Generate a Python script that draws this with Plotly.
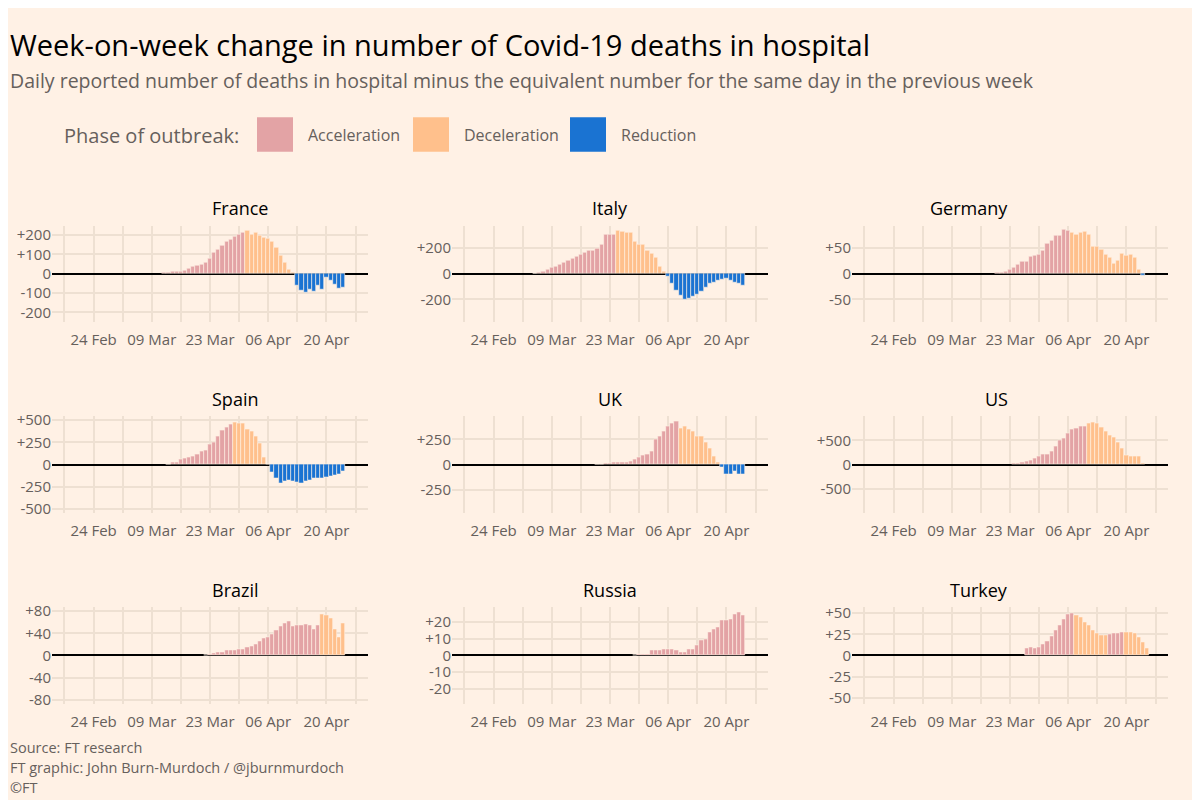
import pandas as pd
import plotly.graph_objects as go

# Données : variation hebdomadaire des décès à l'hôpital
countries = ["France", "Italy", "Germany", "Spain", "UK", "US", "Brazil", "Russia", "Turkey"]

start_dates = {
    "France": "2020-03-12", "Italy": "2020-03-05", "Germany": "2020-03-20",
    "Spain": "2020-03-13", "UK": "2020-03-20", "US": "2020-03-24",
    "Brazil": "2020-03-22", "Russia": "2020-03-29", "Turkey": "2020-03-27",
}

france = [5, 8, 10, 10, 12, 15, 25, 35, 40, 50, 60, 80, 110, 125, 145, 165, 180, 195, 205, 215,
          225, 205, 215, 200, 190, 185, 165, 135, 95, 60, 20, 5,
          -60, -85, -95, -80, -90, -60, -80, -20, -35, -55, -75, -70]
italy = [5, 10, 20, 30, 45, 60, 75, 90, 105, 120, 135, 150, 165, 180, 185, 200, 225, 305, 310, 310,
         340, 330, 325, 320, 255, 230, 225, 180, 155, 130, 60, 15,
         -20, -80, -135, -170, -200, -195, -180, -160, -140, -110, -80, -70, -50, -45, -40, -55, -70, -75, -95]
germany = [2, 3, 5, 8, 12, 17, 23, 23, 33, 35, 38, 45, 58, 65, 75, 75, 87, 85,
           80, 77, 80, 82, 77, 53, 53, 47, 37, 32, 20, 25, 40, 35, 37, 32, 8,
           -4]
spain = [5, 30, 30, 55, 65, 80, 95, 110, 150, 160, 225, 245, 320, 380, 420, 450,
         470, 460, 460, 400, 370, 320, 240, 80, 5,
         -90, -160, -210, -190, -180, -190, -200, -210, -190, -175, -150, -155, -150, -140, -130, -120, -110, -80]
uk = [3, 5, 8, 15, 20, 20, 25, 25, 30, 50, 70, 90, 100, 130, 250, 280, 330, 380, 410, 430,
      360, 385, 355, 330, 280, 280, 220, 160, 85, 25,
      -30, -100, -95, -70, -100, -95]
us = [20, 30, 50, 70, 90, 120, 160, 210, 220, 280, 370, 500, 550, 650, 730, 750, 800, 800,
      850, 880, 850, 780, 680, 610, 560, 470, 330, 200, 180, 180, 180, 20]
brazil = [1, 2, 4, 5, 6, 9, 10, 10, 12, 12, 15, 17, 21, 25, 31, 33, 38, 45, 52, 59, 61, 53, 55, 54, 56, 54, 48, 55,
          75, 72, 67, 48, 33, 58]
russia = [0.3, 0.5, 0.5, 1, 3, 3, 3, 4, 4, 3.5, 3, 2, 2, 4, 3.5, 6, 9, 10, 14, 16, 17, 21, 21, 22, 25, 26, 24]
turkey = [9, 10, 9, 10, 13, 17, 23, 30, 36, 43, 49, 50,
          48, 45, 39, 36, 30, 26, 24, 24,
          25, 26, 26, 27,
          28, 28, 26, 22, 16, 9]

values = {"France": france, "Italy": italy, "Germany": germany, "Spain": spain, "UK": uk,
          "US": us, "Brazil": brazil, "Russia": russia, "Turkey": turkey}

# Phases : (phase, nombre de jours)
phases = {
    "France": [("A", 20), ("D", 12), ("R", 12)],
    "Italy": [("A", 20), ("D", 12), ("R", 19)],
    "Germany": [("A", 18), ("D", 17), ("R", 1)],
    "Spain": [("A", 16), ("D", 9), ("R", 18)],
    "UK": [("A", 20), ("D", 10), ("R", 6)],
    "US": [("A", 18), ("D", 14)],
    "Brazil": [("A", 28), ("D", 6)],
    "Russia": [("A", 27)],
    "Turkey": [("A", 12), ("D", 8), ("A", 4), ("D", 6)],
}

yticks = {
    "France": [-200, -100, 0, 100, 200], "Italy": [-200, 0, 200], "Germany": [-50, 0, 50],
    "Spain": [-500, -250, 0, 250, 500], "UK": [-250, 0, 250], "US": [-500, 0, 500],
    "Brazil": [-80, -40, 0, 40, 80], "Russia": [-20, -10, 0, 10, 20], "Turkey": [-50, -25, 0, 25, 50],
}
yranges = {
    "France": 250, "Italy": 377, "Germany": 94, "Spain": 540, "UK": 480,
    "US": 1000, "Brazil": 87, "Russia": 29, "Turkey": 57,
}

week_ticks = pd.date_range("2020-02-17", "2020-04-27", freq="7D")
week_labels = ["24 Feb", "09 Mar", "23 Mar", "06 Apr", "20 Apr"]

phase_names = {"A": "Acceleration", "D": "Deceleration", "R": "Reduction"}
phase_colors = {"A": "#e3a3a5", "D": "#ffc08c", "R": "#1a73d2"}

bg = "#fff1e5"
grid = "#eee0d2"
grey = "#66605c"

W, H = 1200, 800
OX, OY = 8, 8  # décalage de la page (marge du body)
col_x = [(52, 368), (452, 768), (852, 1168)]
row_y = [(222, 320), (416, 514), (610, 708)]


def px(x):
    return (x - OX) / W


def py(y):
    return 1 - (y - OY) / H


fig = go.Figure()

for i, c in enumerate(countries):
    r, k = divmod(i, 3)
    n = i + 1
    xa = "x" if n == 1 else f"x{n}"
    ya = "y" if n == 1 else f"y{n}"
    dates = pd.date_range(start_dates[c], periods=len(values[c]), freq="D")
    cols = []
    for p, cnt in phases[c]:
        cols += [phase_colors[p]] * cnt
    fig.add_trace(go.Bar(
        x=dates, y=values[c], xaxis=xa, yaxis=ya,
        marker=dict(color=cols, line=dict(color=bg, width=0.6)),
        showlegend=False,
    ))
    x0, x1 = col_x[k]
    y0, y1 = row_y[r]
    labels = []
    for d in week_ticks:
        s = d.strftime("%d %b")
        labels.append(s if s in week_labels else "")
    lim = yranges[c]
    fig.update_layout(**{
        ("xaxis" if n == 1 else f"xaxis{n}"): dict(
            domain=[px(x0), px(x1)], anchor=ya, type="date",
            range=["2020-02-14", "2020-04-30"],
            tickvals=list(week_ticks), ticktext=labels,
            showgrid=True, gridcolor=grid, gridwidth=2, zeroline=False,
            tickfont=dict(size=15, color=grey), ticks="", ticklabelstandoff=7,
        ),
        ("yaxis" if n == 1 else f"yaxis{n}"): dict(
            domain=[py(y1), py(y0)], anchor=xa, range=[-lim, lim],
            tickvals=yticks[c],
            ticktext=[("+" if v > 0 else "") + f"{v:g}" for v in yticks[c]],
            showgrid=True, gridcolor=grid, gridwidth=2,
            zeroline=True, zerolinecolor="black", zerolinewidth=2,
            tickfont=dict(size=15, color=grey), ticks="",
        ),
    })
    fig.add_annotation(x=px((x0 + x1) / 2), y=py(y0 - 18), xref="paper", yref="paper",
                       yanchor="middle", text=c, showarrow=False, font=dict(size=18, color="black"))

# Titre, sous-titre et légende
fig.add_annotation(x=0, y=py(38), xref="paper", yref="paper", xanchor="left", yanchor="middle",
                   showarrow=False,
                   text="Week-on-week change in number of Covid-19 deaths in hospital",
                   font=dict(size=29, color="black"))
fig.add_annotation(x=0, y=py(75), xref="paper", yref="paper", xanchor="left", yanchor="middle",
                   showarrow=False,
                   text="Daily reported number of deaths in hospital minus the equivalent number for the same day in the previous week",
                   font=dict(size=19.5, color=grey))
fig.add_annotation(x=px(62), y=py(130), xref="paper", yref="paper", xanchor="left", yanchor="middle",
                   showarrow=False, text="Phase of outbreak:", font=dict(size=20, color=grey))
for p, lx in zip(["A", "D", "R"], [257, 413, 570]):
    fig.add_shape(type="rect", xref="paper", yref="paper",
                  x0=px(lx), x1=px(lx + 36), y0=py(147), y1=py(112),
                  fillcolor=phase_colors[p], line=dict(width=0))
    fig.add_annotation(x=px(lx + 49), y=py(130), xref="paper", yref="paper", xanchor="left",
                       yanchor="middle", showarrow=False, text=phase_names[p],
                       font=dict(size=16, color=grey))

for j, t in enumerate(["Source: FT research", "FT graphic: John Burn-Murdoch / @jburnmurdoch", "©FT"]):
    fig.add_annotation(x=0, y=py(753 + 20 * j), xref="paper", yref="paper", xanchor="left",
                       yanchor="middle", showarrow=False, text=t, font=dict(size=14.5, color=grey))

fig.update_layout(
    width=W, height=H, margin=dict(l=0, r=0, t=0, b=0),
    paper_bgcolor=bg, plot_bgcolor=bg, bargap=0,
    font=dict(family="Open Sans, Lato, sans-serif"),
)

fig.write_html("out.html")
